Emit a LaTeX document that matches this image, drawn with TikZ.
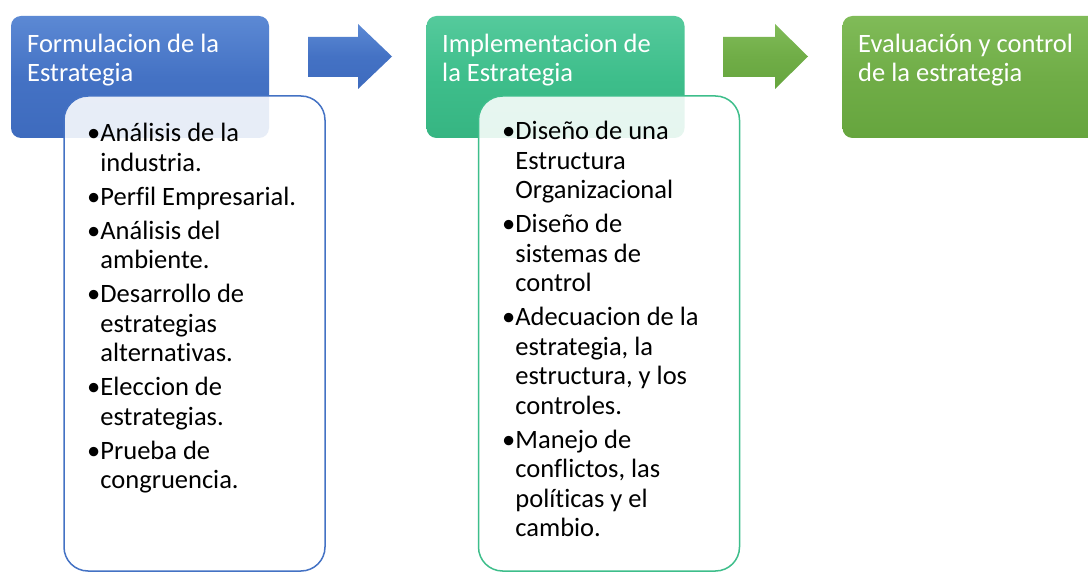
\documentclass[tikz,border=0pt]{standalone}
\usepackage{fontspec}
\setmainfont{Carlito}[RawFeature={-liga;-clig;-calt;-dlig}]
\definecolor{hblue}{HTML}{4472C4}
\definecolor{hblueT}{HTML}{5C89D4}
\definecolor{hblueB}{HTML}{3E6BBE}
\definecolor{hteal}{HTML}{3EBE8B}
\definecolor{htealT}{HTML}{55CA9C}
\definecolor{htealB}{HTML}{36B582}
\definecolor{hgreen}{HTML}{70AD47}
\definecolor{hgreenT}{HTML}{80BB58}
\definecolor{hgreenB}{HTML}{66A53E}
\begin{document}
\begin{tikzpicture}[x=1pt,y=-1pt,
  hdr/.style={rounded corners=10pt, minimum width=258pt, minimum height=122pt, inner sep=0pt},
  sub/.style={rounded corners=24pt, minimum width=261pt, minimum height=475pt, inner sep=0pt,
    fill=white, fill opacity=0.88, line width=1.5pt},
  htext/.style={anchor=base west, inner sep=0pt, text=white, font=\fontsize{26.5}{29}\selectfont},
  btext/.style={anchor=base west, inner sep=0pt, text=black, font=\fontsize{26.5}{29.5}\selectfont},
  arr/.style={line width=0pt}
]
\useasboundingbox (0,0) rectangle (1088,572);
\clip (0,0) rectangle (1088,572);
\fill[white] (0,0) rectangle (1088,572);

% headers
\node[hdr, top color=hblueT, bottom color=hblueB, middle color=hblue] (h1) at (140,77) {};
\node[hdr, top color=htealT, bottom color=htealB, middle color=hteal] (h2) at (555.5,77) {};
\node[hdr, top color=hgreenT, bottom color=hgreenB, middle color=hgreen] (h3) at (971.5,77) {};

\node[htext] (t1) at (27,53) {\begin{tabular}[t]{@{}l@{}}Formulacion de la\\ Estrategia\end{tabular}};
\node[htext] (t2) at (442,53) {\begin{tabular}[t]{@{}l@{}}Implementacion de\\ la Estrategia\end{tabular}};
\node[htext] (t3) at (858,53) {\begin{tabular}[t]{@{}l@{}}Evaluación y control\\ de la estrategia\end{tabular}};

% arrows
\path[arr, top color=hblueT, bottom color=hblueB, middle color=hblue]
  (308,37) -- (358,37) -- (358,24) -- (392,56.5) -- (358,89) -- (358,77) -- (308,77) -- cycle;
\path[arr, top color=hgreenT, bottom color=hgreenB, middle color=hgreen]
  (723,37) -- (775,37) -- (775,24) -- (808,56.5) -- (775,89) -- (775,77) -- (723,77) -- cycle;

% sub boxes
\node[sub, draw=hblue] (s1) at (194.5,333.5) {};
\node[sub, draw=hteal] (s2) at (609,333.5) {};

\node[btext] (l1) at (87,142) {\begin{tabular}[t]{@{}l@{}l@{}}
•&Análisis de la\\ &industria.\\[4.5pt]
•&Perfil Empresarial.\\[4.5pt]
•&Análisis del\\ &ambiente.\\[4.5pt]
•&Desarrollo de\\ &estrategias\\ &alternativas.\\[4.5pt]
•&Eleccion de\\ &estrategias.\\[4.5pt]
•&Prueba de\\ &congruencia.
\end{tabular}};

\node[btext] (l2) at (502,140) {\begin{tabular}[t]{@{}l@{}l@{}}
•&Diseño de una\\ &Estructura\\ &Organizacional\\[4.5pt]
•&Diseño de\\ &sistemas de\\ &control\\[4.5pt]
•&Adecuacion de la\\ &estrategia, la\\ &estructura, y los\\ &controles.\\[4.5pt]
•&Manejo de\\ &conflictos, las\\ &políticas y el\\ &cambio.
\end{tabular}};
\end{tikzpicture}
\end{document}
